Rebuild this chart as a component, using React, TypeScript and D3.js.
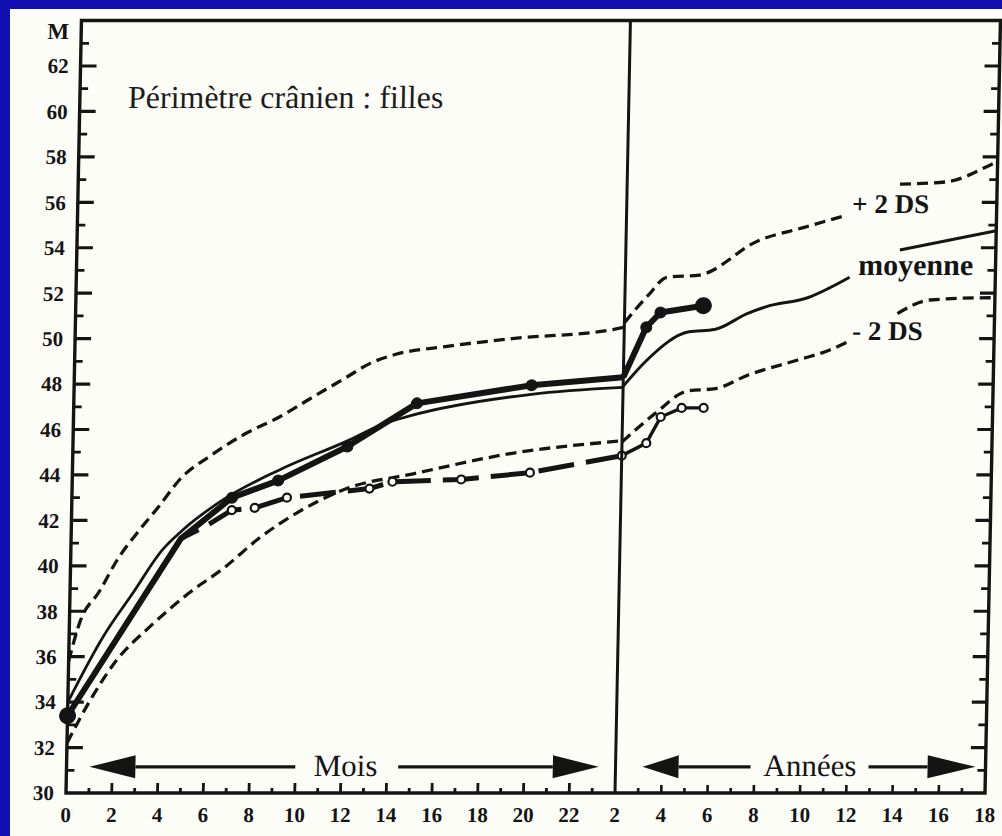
import { useEffect, useRef } from "react";
import * as d3 from "d3";

type Pt = [number, number];

// Âge en mois (0-24) / périmètre crânien (cm)
const plus2dsMois: Pt[] = [[0, 35.8], [0.45, 37.5], [1.3, 38.9], [2, 40.2], [3, 41.6], [3.8, 42.6], [4.7, 43.8], [6.1, 44.9], [7.5, 45.8], [9, 46.55], [10.4, 47.4], [11.9, 48.3], [12.9, 48.9], [14, 49.3], [16.2, 49.65], [19.1, 50.0], [23.5, 50.4], [24, 50.5]];
const moyenneMois: Pt[] = [[0, 34.0], [1.5, 36.9], [2.75, 38.8], [4, 40.7], [4.9, 41.6], [6.6, 42.9], [9, 44.2], [12, 45.5], [13.7, 46.3], [14.7, 46.6], [20, 47.55], [24, 47.85]];
const moins2dsMois: Pt[] = [[0, 32.2], [1.1, 34.3], [2.1, 35.85], [3.5, 37.3], [5.2, 38.8], [6.7, 39.9], [8.2, 41.2], [9.8, 42.3], [12, 43.4], [14.9, 44.05], [19.2, 44.95], [24, 45.5]];
const patiente1Mois: Pt[] = [[0, 33.4], [4.8, 41.2], [7, 43.0], [9, 43.75], [12, 45.25], [15, 47.15], [20, 47.95], [24, 48.3]];
const patiente2Mois: Pt[] = [[0, 33.4], [4.8, 41.2], [5.8, 41.7], [7, 42.45], [8, 42.55], [9.4, 43.0], [13, 43.4], [14, 43.7], [17, 43.8], [20, 44.1], [24, 44.85]];

// Âge en années (2-18) ; NaN = coupure sous les étiquettes
const plus2dsAns: Pt[] = [[2, 50.7], [3, 51.9], [3.8, 52.7], [5.2, 52.8], [7.7, 54.3], [9.7, 54.9], [11.4, 55.4], [12.5, NaN], [13.8, 56.8], [15.8, 56.9], [17.6, 57.6], [18, 57.8]];
const moyenneAns: Pt[] = [[2, 47.9], [3, 49.05], [4.8, 50.3], [5.9, 50.4], [7.3, 51.1], [8.1, 51.4], [9.9, 51.8], [11.7, 52.7], [12.8, NaN], [13.85, 53.9], [18, 54.75]];
const moins2dsAns: Pt[] = [[2, 45.45], [3.4, 46.7], [4.8, 47.7], [6, 47.8], [7.4, 48.4], [9.5, 49.05], [10.9, 49.5], [11.65, 49.85], [12.7, NaN], [13.8, 51.1], [15.2, 51.7], [17.75, 51.8], [18, 51.8]];
const patiente1Ans: Pt[] = [[2, 48.3], [2.95, 50.5], [3.55, 51.15], [5.4, 51.45]];
const patiente2Ans: Pt[] = [[2, 44.85], [3.05, 45.4], [3.65, 46.55], [4.55, 46.95], [5.5, 46.95]];

// points marqués
const pointsPleinsMois = [7, 9, 12, 15, 20];
const pointsPleinsAns = [2.95, 3.55];
const grosPointsMois = [0];
const grosPointsAns = [5.4];
const pointsVidesMois = [7, 8, 9.4, 13, 14, 17, 20, 24];
const pointsVidesAns = [3.05, 3.65, 4.55, 5.5];

// graduations
const yLabels = [30, 32, 34, 36, 38, 40, 42, 44, 46, 48, 50, 52, 54, 56, 58, 60, 62];
const moisLabels = [0, 2, 4, 6, 8, 10, 12, 14, 16, 18, 20, 22];
const ansLabels = [2, 4, 6, 8, 10, 12, 14, 16, 18];

const W = 1002;
const H = 836;
const SKEW = 0.02; // léger gauchissement du scan
const X0 = 66;
const XMID = 615;
const X1 = 985;
const Y30 = 793;
const Y62 = 66;
const SERIF = "'Liberation Serif', 'Times New Roman', serif";
const INK = "#141414";

export default function App() {
  const svgRef = useRef<SVGSVGElement>(null);

  useEffect(() => {
    document.body.style.margin = "0";
    if (!svgRef.current) return;
    const svg = d3.select(svgRef.current);
    svg.selectAll("*").remove();

    const xM = d3.scaleLinear().domain([0, 24]).range([X0, XMID]);
    const xA = d3.scaleLinear().domain([2, 18]).range([XMID, X1]);
    const y = d3.scaleLinear().domain([30, 62]).range([Y30, Y62]);
    const yTop = y(64);

    svg.append("rect").attr("width", W).attr("height", H).attr("fill", "#1010b0");
    svg
      .append("rect")
      .attr("x", 10)
      .attr("y", 9)
      .attr("width", W - 10)
      .attr("height", H - 9)
      .attr("fill", "#fdfdf8");

    const g = svg
      .append("g")
      .attr("transform", `matrix(1,0,${-SKEW},1,${SKEW * Y30},0)`);

    const mkLine = (x: d3.ScaleLinear<number, number>, curve: d3.CurveFactory) =>
      d3
        .line<Pt>()
        .defined((d) => !Number.isNaN(d[1]))
        .x((d) => x(d[0]))
        .y((d) => y(d[1]))
        .curve(curve);

    const smoothM = mkLine(xM, d3.curveMonotoneX);
    const smoothA = mkLine(xA, d3.curveMonotoneX);
    const straightM = mkLine(xM, d3.curveLinear);
    const straightA = mkLine(xA, d3.curveLinear);

    // courbes de référence
    [plus2dsMois, moins2dsMois].forEach((d) =>
      g.append("path").datum(d).attr("d", smoothM).attr("fill", "none")
        .attr("stroke", INK).attr("stroke-width", 3.3).attr("stroke-dasharray", "11 6")
    );
    [plus2dsAns, moins2dsAns].forEach((d) =>
      g.append("path").datum(d).attr("d", smoothA).attr("fill", "none")
        .attr("stroke", INK).attr("stroke-width", 3.3).attr("stroke-dasharray", "11 6")
    );
    g.append("path").datum(moyenneMois).attr("d", smoothM).attr("fill", "none")
      .attr("stroke", INK).attr("stroke-width", 2.8);
    g.append("path").datum(moyenneAns).attr("d", smoothA).attr("fill", "none")
      .attr("stroke", INK).attr("stroke-width", 3);

    // patiente 2 (cercles vides)
    g.append("path").datum(patiente2Mois).attr("d", straightM).attr("fill", "none")
      .attr("stroke", INK).attr("stroke-width", 5).attr("stroke-dasharray", "36 12");
    g.append("path").datum(patiente2Ans).attr("d", straightA).attr("fill", "none")
      .attr("stroke", INK).attr("stroke-width", 3.4);

    // patiente 1 (points pleins)
    g.append("path").datum(patiente1Mois).attr("d", straightM).attr("fill", "none")
      .attr("stroke", INK).attr("stroke-width", 6).attr("stroke-linejoin", "round");
    g.append("path").datum(patiente1Ans).attr("d", straightA).attr("fill", "none")
      .attr("stroke", INK).attr("stroke-width", 6).attr("stroke-linejoin", "round");

    const dots = (
      data: Pt[],
      ages: number[],
      x: d3.ScaleLinear<number, number>,
      r: number,
      open: boolean
    ) => {
      g.append("g")
        .selectAll("circle")
        .data(data.filter((d) => ages.includes(d[0])))
        .join("circle")
        .attr("cx", (d) => x(d[0]))
        .attr("cy", (d) => y(d[1]))
        .attr("r", r)
        .attr("fill", open ? "#ffffff" : INK)
        .attr("stroke", INK)
        .attr("stroke-width", open ? 2.2 : 1);
    };
    dots(patiente1Mois, pointsPleinsMois, xM, 5.5, false);
    dots(patiente1Ans, pointsPleinsAns, xA, 5.5, false);
    dots(patiente1Mois, grosPointsMois, xM, 8, false);
    dots(patiente1Ans, grosPointsAns, xA, 8, false);
    dots(patiente2Mois, pointsVidesMois, xM, 4, true);
    dots(patiente2Ans, pointsVidesAns, xA, 4, true);

    // cadre et séparation mois / années
    const frame = g.append("g").attr("stroke", INK).attr("fill", "none");
    frame.append("path")
      .attr("d", `M${X0},${Y30 + 1.5}V${yTop}H${X1}V${Y30}H${X0 - 1.5}`)
      .attr("stroke-width", 3.4);
    frame.append("line")
      .attr("x1", XMID).attr("x2", XMID).attr("y1", yTop).attr("y2", Y30)
      .attr("stroke-width", 3);

    // graduations
    const ticks = g.append("g").attr("stroke", INK);
    d3.range(31, 64).forEach((v) => {
      const major = v % 2 === 0;
      ticks.append("line").attr("x1", X0).attr("x2", X0 + (major ? 16 : 8))
        .attr("y1", y(v)).attr("y2", y(v)).attr("stroke-width", major ? 3.2 : 2.8);
      ticks.append("line").attr("x1", X1).attr("x2", X1 - (major ? 15 : 8))
        .attr("y1", y(v)).attr("y2", y(v)).attr("stroke-width", major ? 3.2 : 2.8);
    });
    d3.range(1, 24).forEach((m) => {
      const major = m % 2 === 0;
      ticks.append("line").attr("x1", xM(m)).attr("x2", xM(m))
        .attr("y1", Y30).attr("y2", Y30 - (major ? 10 : 5)).attr("stroke-width", 2.8);
    });
    d3.range(3, 18).forEach((a) => {
      const major = a % 2 === 0;
      ticks.append("line").attr("x1", xA(a)).attr("x2", xA(a))
        .attr("y1", Y30).attr("y2", Y30 - (major ? 8 : 5)).attr("stroke-width", 2.6);
    });

    // étiquettes des axes
    const lab = g.append("g")
      .style("font-family", SERIF).style("font-weight", "700").style("font-size", "21px")
      .attr("fill", INK);
    yLabels.forEach((v) =>
      lab.append("text").attr("x", X0 - 12).attr("y", y(v)).attr("dy", "0.35em")
        .attr("text-anchor", "end").text(v)
    );
    lab.append("text").attr("x", X0 - 12).attr("y", y(63.55)).attr("dy", "0.35em")
      .attr("text-anchor", "end").style("font-size", "23px").text("M");
    moisLabels.forEach((m) =>
      lab.append("text").attr("x", xM(m)).attr("y", Y30 + 22).attr("dy", "0.35em")
        .attr("text-anchor", "middle").text(m)
    );
    ansLabels.forEach((a) =>
      lab.append("text").attr("x", xA(a)).attr("y", Y30 + 22).attr("dy", "0.35em")
        .attr("text-anchor", "middle").text(a)
    );

    // flèches Mois / Années
    const arrows = g.append("g").attr("fill", INK).attr("stroke", INK);
    const arrow = (
      x: d3.ScaleLinear<number, number>,
      tipL: number, endL: number, startR: number, tipR: number,
      mid: number, text: string, headL: number, headR: number
    ) => {
      const ya = y(31.15);
      const xl = x(tipL), xr = x(tipR);
      arrows.append("line").attr("x1", xl + headL).attr("x2", x(endL))
        .attr("y1", ya).attr("y2", ya).attr("stroke-width", 3.2);
      arrows.append("line").attr("x1", x(startR)).attr("x2", xr - headR)
        .attr("y1", ya).attr("y2", ya).attr("stroke-width", 3.2);
      arrows.append("path").attr("stroke", "none")
        .attr("d", `M${xl},${ya}L${xl + headL},${ya - 11.5}L${xl + headL},${ya + 11.5}Z`);
      arrows.append("path").attr("stroke", "none")
        .attr("d", `M${xr},${ya}L${xr - headR},${ya - 11.5}L${xr - headR},${ya + 11.5}Z`);
      arrows.append("text").attr("x", x(mid)).attr("y", ya + 9).attr("stroke", "none")
        .attr("text-anchor", "middle").style("font-family", SERIF).style("font-size", "31px")
        .text(text);
    };
    arrow(xM, 1.0, 10.0, 14.5, 23.27, 12.2, "Mois", 46, 46);
    arrow(xA, 3.17, 7.84, 12.94, 17.57, 10.41, "Années", 36, 48);

    // titre et légendes des courbes
    g.append("text").attr("x", xM(2.1)).attr("y", y(60.15))
      .style("font-family", SERIF).style("font-size", "32px").attr("fill", "#1c1c1c")
      .text("Périmètre crânien : filles");
    const ann = g.append("g").style("font-family", SERIF).style("font-weight", "700")
      .attr("fill", INK);
    ann.append("text").attr("x", xA(11.75)).attr("y", y(55.53)).style("font-size", "27px")
      .text("+ 2 DS");
    ann.append("text").attr("x", xA(12.06)).attr("y", y(52.8)).style("font-size", "30px")
      .text("moyenne");
    ann.append("text").attr("x", xA(11.86)).attr("y", y(49.94)).style("font-size", "27px")
      .text("- 2 DS");
  }, []);

  return <svg ref={svgRef} width={W} height={H} style={{ display: "block" }} />;
}
